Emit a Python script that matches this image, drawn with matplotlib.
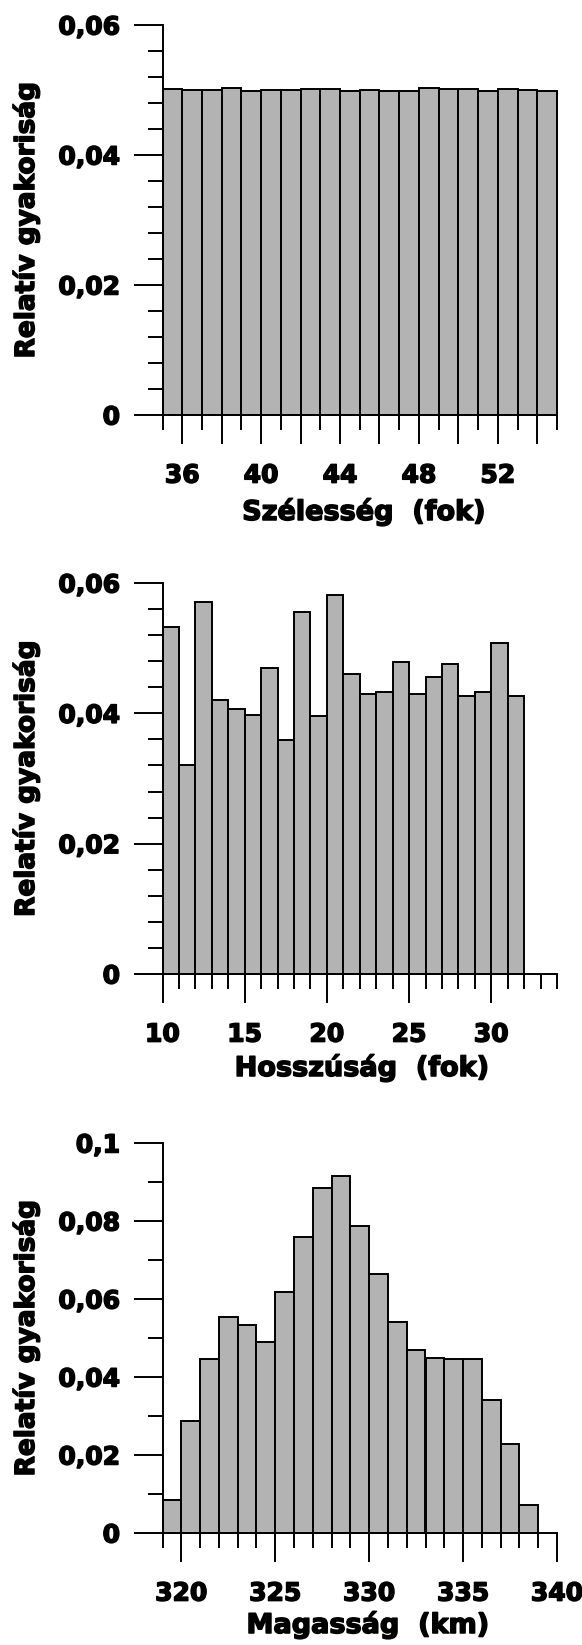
import matplotlib
matplotlib.use("Agg")
import matplotlib.pyplot as plt
import matplotlib.patheffects as pe
from matplotlib.ticker import FixedLocator, MultipleLocator

plt.rcParams['font.family'] = ['DejaVu Sans']
plt.rcParams['font.weight'] = 'bold'

# bin left edges and relative frequencies
lat_bins = [35, 36, 37, 38, 39, 40, 41, 42, 43, 44, 45, 46, 47, 48, 49, 50, 51, 52, 53, 54]
lat_freq = [0.0501, 0.0500, 0.0500, 0.0503, 0.0499, 0.0500, 0.0500, 0.0501, 0.0502, 0.0499,
            0.0500, 0.0498, 0.0499, 0.0503, 0.0502, 0.0501, 0.0499, 0.0502, 0.0500, 0.0498]

lon_bins = [10, 11, 12, 13, 14, 15, 16, 17, 18, 19, 20, 21, 22, 23, 24, 25, 26, 27, 28, 29, 30, 31]
lon_freq = [0.0532, 0.0320, 0.0571, 0.0421, 0.0406, 0.0398, 0.0470, 0.0359, 0.0555, 0.0396, 0.0581,
            0.0460, 0.0430, 0.0432, 0.0479, 0.0429, 0.0455, 0.0475, 0.0427, 0.0432, 0.0508, 0.0426]

alt_bins = [319, 320, 321, 322, 323, 324, 325, 326, 327, 328, 329, 330, 331, 332, 333, 334, 335, 336, 337, 338]
alt_freq = [0.0085, 0.0288, 0.0446, 0.0555, 0.0534, 0.0489, 0.0618, 0.0758, 0.0884, 0.0916,
            0.0788, 0.0664, 0.0542, 0.0470, 0.0450, 0.0446, 0.0447, 0.0341, 0.0227, 0.0072]

lat_ticks = [36, 38, 40, 42, 44, 46, 48, 50, 52, 54]
lat_labels = ['36', '', '40', '', '44', '', '48', '', '52', '']
lon_ticks = [10, 15, 20, 25, 30]
lon_labels = ['10', '15', '20', '25', '30']
alt_ticks = [320, 325, 330, 335, 340]
alt_labels = ['320', '325', '330', '335', '340']

y6_ticks = [0, 0.02, 0.04, 0.06]
y6_labels = ['0', '0,02', '0,04', '0,06']
y10_ticks = [0, 0.02, 0.04, 0.06, 0.08, 0.1]
y10_labels = ['0', '0,02', '0,04', '0,06', '0,08', '0,1']

ylabel = 'Relatív gyakoriság'
xlabels = ['Szélesség  (fok)', 'Hosszúság  (fok)', 'Magasság  (km)']

W, H = 582, 1645
fig = plt.figure(figsize=(W / 100, H / 100), dpi=100)

# slightly heavier strokes, the original lettering is very bold
heavy = [pe.withStroke(linewidth=1.1, foreground='black')]

panels = [
    # bins, freq, xlim, xticks, xlabels, ylim, yticks, ylabels, yminor, top, bottom, xlabel pos
    (lat_bins, lat_freq, (35, 55), lat_ticks, lat_labels, 0.06, y6_ticks, y6_labels, 0.004, 25, 415, (364, 512)),
    (lon_bins, lon_freq, (10, 34), lon_ticks, lon_labels, 0.06, y6_ticks, y6_labels, 0.004, 583, 974, (362, 1068)),
    (alt_bins, alt_freq, (319, 340), alt_ticks, alt_labels, 0.1, y10_ticks, y10_labels, 0.01, 1143, 1533, (368, 1625)),
]

left_px, right_px = 162.5, 557
lw = 1.4

for i, (bins, freq, xlim, xt, xtl, ymax, yt, ytl, ymin_step, top, bot, xlpos) in enumerate(panels):
    ax = fig.add_axes([left_px / W, 1 - bot / H, (right_px - left_px) / W, (bot - top) / H])
    ax.bar(bins, freq, width=1, align='edge', color='#b3b3b3', edgecolor='black',
           linewidth=lw, clip_on=False, zorder=2)
    ax.set_xlim(*xlim)
    ax.set_ylim(0, ymax)

    ax.xaxis.set_major_locator(FixedLocator(xt))
    ax.set_xticklabels(xtl)
    ax.xaxis.set_minor_locator(MultipleLocator(1))
    ax.yaxis.set_major_locator(FixedLocator(yt))
    ax.set_yticklabels(ytl)
    ax.yaxis.set_minor_locator(MultipleLocator(ymin_step))

    for s in ['top', 'right']:
        ax.spines[s].set_visible(False)
    for s in ['left', 'bottom']:
        ax.spines[s].set_linewidth(lw)
        ax.spines[s].set_zorder(3)

    ax.tick_params(axis='both', which='major', direction='out', length=21, width=lw,
                   labelsize=18)
    ax.tick_params(axis='both', which='minor', direction='out', length=11, width=lw)
    ax.tick_params(axis='x', which='major', pad=14)
    ax.tick_params(axis='y', which='major', pad=9.5)
    for lab in ax.get_xticklabels() + ax.get_yticklabels():
        lab.set_fontweight('bold')
        lab.set_path_effects(heavy)

    fig.text(26 / W, 1 - (top + bot) / 2 / H, ylabel, rotation=90, ha='center', va='center',
             fontsize=19, fontweight='bold', path_effects=heavy)
    fig.text(xlpos[0] / W, 1 - xlpos[1] / H, xlabels[i], ha='center', va='center',
             fontsize=19.5, fontweight='bold', path_effects=heavy)

plt.savefig("out.png", dpi=100)
